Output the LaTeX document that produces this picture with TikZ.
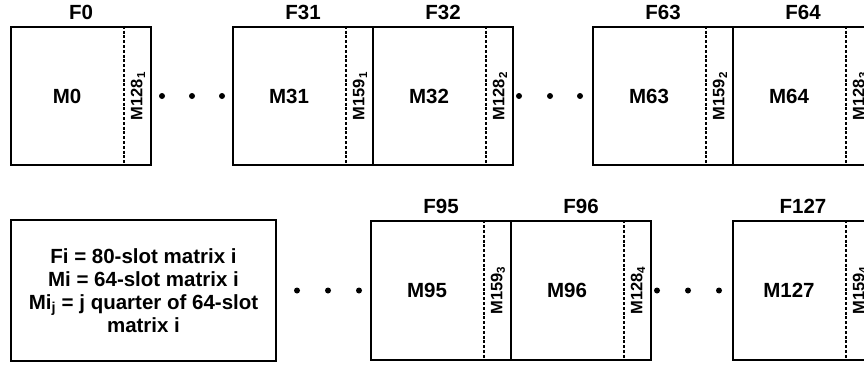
\documentclass[tikz,border=0pt]{standalone}
\usepackage{fontspec}
\setmainfont{Liberation Sans}
\usepackage{tikz}

\tikzset{
  frm/.style={draw,line width=1.8pt,minimum width=140pt,minimum height=138.5pt,inner sep=0pt},
  sep/.style={line width=1.3pt,dash pattern=on 3pt off 1.8pt},
  ttl/.style={font=\bfseries\fontsize{20.5}{24}\selectfont,inner sep=0pt},
  mlab/.style={font=\bfseries\fontsize{20.5}{24}\selectfont,inner sep=0pt},
  qlab/.style={font=\bfseries\fontsize{16.5}{19}\selectfont,rotate=90,inner sep=0pt},
  legend/.style={draw,line width=1.8pt,minimum width=265pt,minimum height=141pt,align=center,
    font=\bfseries\fontsize{20.5}{23}\selectfont}
}

\begin{document}
\begin{tikzpicture}[x=1pt,y=-1pt]
\clip (0,0) rectangle (864,364);
\useasboundingbox (0,0) rectangle (864,364);
% top row
\node[frm] (F0) at (81,96) {};
\draw[sep] ([xshift=-28pt]F0.north east) -- ([xshift=-28pt]F0.south east);
\node[ttl] (t0) at (81,12) {F0};
\node[mlab] (m0) at ([xshift=-14pt]F0.center) {M0};
\node[qlab] (q0) at ([xshift=57pt]F0.center) {M128\textsubscript{1}};
\fill (162,96) circle (3);
\fill (192,96) circle (3);
\fill (222,96) circle (3);
\node[frm] (F31) at (303,96) {};
\draw[sep] ([xshift=-28pt]F31.north east) -- ([xshift=-28pt]F31.south east);
\node[ttl] (t31) at (303,12) {F31};
\node[mlab] (m31) at ([xshift=-14pt]F31.center) {M31};
\node[qlab] (q31) at ([xshift=57pt]F31.center) {M159\textsubscript{1}};
\node[frm] (F32) at (443,96) {};
\draw[sep] ([xshift=-28pt]F32.north east) -- ([xshift=-28pt]F32.south east);
\node[ttl] (t32) at (443,12) {F32};
\node[mlab] (m32) at ([xshift=-14pt]F32.center) {M32};
\node[qlab] (q32) at ([xshift=57pt]F32.center) {M128\textsubscript{2}};
\fill (519,96) circle (3);
\fill (550,96) circle (3);
\fill (580,96) circle (3);
\node[frm] (F63) at (663,96) {};
\draw[sep] ([xshift=-28pt]F63.north east) -- ([xshift=-28pt]F63.south east);
\node[ttl] (t63) at (663,12) {F63};
\node[mlab] (m63) at ([xshift=-14pt]F63.center) {M63};
\node[qlab] (q63) at ([xshift=57pt]F63.center) {M159\textsubscript{2}};
\node[frm] (F64) at (803,96) {};
\draw[sep] ([xshift=-28pt]F64.north east) -- ([xshift=-28pt]F64.south east);
\node[ttl] (t64) at (803,12) {F64};
\node[mlab] (m64) at ([xshift=-14pt]F64.center) {M64};
\node[qlab] (q64) at ([xshift=57pt]F64.center) {M128\textsubscript{3}};
% bottom row
\node[legend] (key) at (143.5,290.5) {Fi = 80-slot matrix i\\Mi = 64-slot matrix i\\Mi\textsubscript{j} = j quarter of 64-slot\\matrix i};
\fill (297,290.5) circle (3);
\fill (328,290.5) circle (3);
\fill (359,290.5) circle (3);
\node[frm] (F95) at (441,290.5) {};
\draw[sep] ([xshift=-28pt]F95.north east) -- ([xshift=-28pt]F95.south east);
\node[ttl] (t95) at (441,206.5) {F95};
\node[mlab] (m95) at ([xshift=-14pt]F95.center) {M95};
\node[qlab] (q95) at ([xshift=57pt]F95.center) {M159\textsubscript{3}};
\node[frm] (F96) at (581,290.5) {};
\draw[sep] ([xshift=-28pt]F96.north east) -- ([xshift=-28pt]F96.south east);
\node[ttl] (t96) at (581,206.5) {F96};
\node[mlab] (m96) at ([xshift=-14pt]F96.center) {M96};
\node[qlab] (q96) at ([xshift=57pt]F96.center) {M128\textsubscript{4}};
\fill (657,290.5) circle (3);
\fill (688,290.5) circle (3);
\fill (719,290.5) circle (3);
\node[frm] (F127) at (803,290.5) {};
\draw[sep] ([xshift=-28pt]F127.north east) -- ([xshift=-28pt]F127.south east);
\node[ttl] (t127) at (803,206.5) {F127};
\node[mlab] (m127) at ([xshift=-14pt]F127.center) {M127};
\node[qlab] (q127) at ([xshift=57pt]F127.center) {M159\textsubscript{4}};
\end{tikzpicture}
\end{document}
